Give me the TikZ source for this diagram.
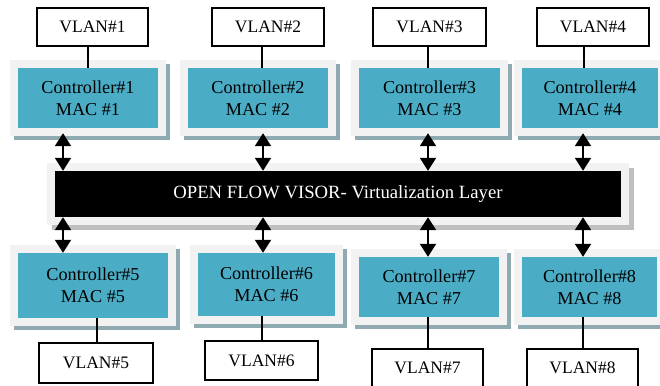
\documentclass[tikz,border=0pt]{standalone}
\usepackage{fontspec}
\setmainfont{Liberation Serif}
\usepackage{tikz}
\usetikzlibrary{arrows.meta,positioning}
\definecolor{ctrlTeal}{RGB}{75,172,198}
\definecolor{frameGray}{RGB}{242,242,242}
\definecolor{ctrlShadow}{RGB}{143,170,176}
\definecolor{barShadow}{RGB}{191,191,191}

\begin{document}
\begin{tikzpicture}[x=1pt, y=-1pt,
    ctrl/.style={fill=ctrlTeal, inner sep=0pt, minimum height=60pt, align=center,
      font=\fontsize{18.2}{22}\selectfont,
      preaction={draw=ctrlShadow, line width=16pt, transform canvas={shift={(4pt,-4pt)}}},
      preaction={draw=frameGray, line width=16pt}},
    vlan/.style={draw, line width=1.4pt, fill=white, inner sep=0pt, minimum height=38pt,
      font=\fontsize{17.5}{22}\selectfont},
    link/.style={line width=2pt},
    biarrow/.style={line width=2pt, {Triangle[width=16pt,length=13pt]}-{Triangle[width=16pt,length=13pt]}}]
  \useasboundingbox (0,0) rectangle (660,385);
  % Virtualization layer
  \node[fill=black, text=white, inner sep=0pt, minimum width=566pt, minimum height=46pt,
    font=\fontsize{18.7}{22}\selectfont,
    preaction={draw=barShadow, line width=16pt, transform canvas={shift={(5pt,-5pt)}}},
    preaction={draw=frameGray, line width=16pt}]
    (bar) at (338,194) {OPEN FLOW VISOR- Virtualization Layer};
  % Upper controllers
  \node[ctrl, minimum width=140pt] (c1) at (88,98) {Controller\#1\\MAC \#1};
  \node[ctrl, minimum width=140pt] (c2) at (258,98) {Controller\#2\\MAC \#2};
  \node[ctrl, minimum width=141pt] (c3) at (429.5,98) {Controller\#3\\MAC \#3};
  \node[ctrl, minimum width=136pt] (c4) at (590,98) {Controller\#4\\MAC \#4};
  % Lower controllers
  \node[ctrl, minimum width=150pt, minimum height=65pt] (c5) at (93,285.5) {Controller\#5\\MAC \#5};
  \node[ctrl, minimum width=137pt, minimum height=63pt] (c6) at (266.5,284.5) {Controller\#6\\MAC \#6};
  \node[ctrl, minimum width=140pt] (c7) at (429,287) {Controller\#7\\MAC \#7};
  \node[ctrl, minimum width=135pt] (c8) at (589.5,287) {Controller\#8\\MAC \#8};
  % VLANs
  \node[vlan, minimum width=111pt] (v1) at (92.5,27) {VLAN\#1};
  \node[vlan, minimum width=112pt] (v2) at (268,27) {VLAN\#2};
  \node[vlan, minimum width=113pt] (v3) at (429.5,27) {VLAN\#3};
  \node[vlan, minimum width=112pt] (v4) at (593,27) {VLAN\#4};
  \node[vlan, minimum width=114pt, minimum height=40pt] (v5) at (96,363) {VLAN\#5};
  \node[vlan, minimum width=113pt, minimum height=39pt] (v6) at (261.5,360.5) {VLAN\#6};
  \node[vlan, minimum width=111pt] (v7) at (427.5,368) {VLAN\#7};
  \node[vlan, minimum width=111pt] (v8) at (582.5,368) {VLAN\#8};
  % Link and arrow positions
  \coordinate (l1) at (88,0);
  \coordinate (l2) at (262,0);
  \coordinate (l3) at (428,0);
  \coordinate (l4) at (584,0);
  \coordinate (l5) at (97,0);
  \coordinate (l6) at (262,0);
  \coordinate (l7) at (428,0);
  \coordinate (l8) at (583,0);
  \coordinate (a1) at (63,0);
  \coordinate (a2) at (263,0);
  \coordinate (a3) at (428,0);
  \coordinate (a4) at (583,0);
  % VLAN links
  \draw[link] (v1.south -| l1) -- (c1.north -| l1);
  \draw[link] (v2.south -| l2) -- (c2.north -| l2);
  \draw[link] (v3.south -| l3) -- (c3.north -| l3);
  \draw[link] (v4.south -| l4) -- (c4.north -| l4);
  \draw[link] (c5.south -| l5) -- (v5.north -| l5);
  \draw[link] (c6.south -| l6) -- (v6.north -| l6);
  \draw[link] (c7.south -| l7) -- (v7.north -| l7);
  \draw[link] (c8.south -| l8) -- (v8.north -| l8);
  % Arrows to the layer
  \draw[biarrow, shorten <=5pt] (c1.south -| a1) -- (bar.north -| a1);
  \draw[biarrow, shorten <=5pt] (c2.south -| a2) -- (bar.north -| a2);
  \draw[biarrow, shorten <=5pt] (c3.south -| a3) -- (bar.north -| a3);
  \draw[biarrow, shorten <=5pt] (c4.south -| a4) -- (bar.north -| a4);
  \draw[biarrow] (bar.south -| a1) -- (c5.north -| a1);
  \draw[biarrow] (bar.south -| a2) -- (c6.north -| a2);
  \draw[biarrow] (bar.south -| a3) -- (c7.north -| a3);
  \draw[biarrow] (bar.south -| a4) -- (c8.north -| a4);
\end{tikzpicture}
\end{document}
